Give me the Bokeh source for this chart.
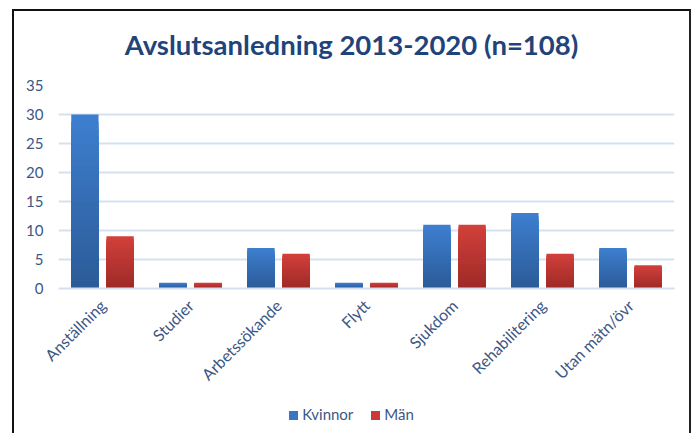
from bokeh.plotting import figure
from bokeh.models import FactorRange, ColumnDataSource, Div
from bokeh.layouts import column
from bokeh.transform import dodge
from bokeh.embed import file_html
from bokeh.resources import INLINE
import math

title_text = "Avslutsanledning 2013-2020 (n=108)"
categories = ["Anställning", "Studier", "Arbetssökande", "Flytt", "Sjukdom", "Rehabilitering", "Utan mätn/övr"]
kvinnor = [30, 1, 7, 1, 11, 13, 7]
man = [9, 1, 6, 1, 11, 6, 4]
series_names = ["Kvinnor", "Män"]
series_colors = ["#3A74C4", "#C8393A"]
y_ticks = [0, 5, 10, 15, 20, 25, 30, 35]

FONT = "Lato"
TXT = "#3B5785"

p = figure(x_range=FactorRange(*categories, range_padding=0), y_range=(0, 35),
           width=675, height=322, output_backend="svg", toolbar_location=None,
           min_border_left=44, min_border_right=15, min_border_top=14, min_border_bottom=80)

def hexmix(c1, c2, t):
    a = [int(c1[i:i+2], 16) for i in (1, 3, 5)]
    b = [int(c2[i:i+2], 16) for i in (1, 3, 5)]
    return "#%02x%02x%02x" % tuple(round(a[k] + (b[k] - a[k]) * t) for k in range(3))

N = 24
for name, vals, off, ctop, cbot in [("Kvinnor", kvinnor, -0.2, "#3D7ECF", "#2C5C98"),
                                     ("Män", man, 0.2, "#D2403B", "#9E2A27")]:
    for k in range(N):
        frac = 1 - k / N
        src = ColumnDataSource(dict(x=categories, top=[v * frac for v in vals]))
        p.vbar(x=dodge("x", off, range=p.x_range), top="top", bottom=0, width=0.31,
               source=src, fill_color=hexmix(ctop, cbot, k / (N - 1)), line_color=None)

p.xgrid.grid_line_color = None
p.ygrid.grid_line_color = "#D5E1F0"
p.ygrid.grid_line_width = 2
p.yaxis.ticker = y_ticks
p.yaxis.axis_line_color = None
p.yaxis.major_tick_line_color = None
p.yaxis.minor_tick_line_color = None
p.yaxis.major_label_text_font = FONT
p.yaxis.major_label_text_font_size = "15px"
p.yaxis.major_label_text_color = TXT
p.yaxis.major_label_standoff = 9

p.xaxis.axis_line_color = "#D5E1F0"
p.xaxis.axis_line_width = 2
p.xaxis.major_tick_line_color = None
p.xaxis.minor_tick_line_color = None
p.xaxis.major_label_orientation = math.pi / 4
p.xaxis.major_label_text_font = FONT
p.xaxis.major_label_text_font_size = "16px"
p.xaxis.major_label_text_color = TXT
p.xaxis.major_label_standoff = 8

p.outline_line_color = None

title_div = Div(text=title_text, width=675, height=60, margin=0,
                styles={"text-align": "center", "font-family": FONT, "font-size": "27.5px",
                        "font-weight": "bold", "color": "#1F4479", "line-height": "68px"})

sq = '<span style="display:inline-block;width:9px;height:9px;background:{c};margin-right:4px;"></span>'
legend_html = "".join(
    '<span style="margin:0 9px;">' + sq.format(c=c) + n + "</span>"
    for n, c in zip(series_names, series_colors))
div = Div(text=legend_html, width=675, height=40, margin=0,
          styles={"text-align": "center", "font-family": FONT, "font-size": "15px",
                  "color": TXT, "line-height": "28px", "padding-top": "7px"})

layout = column(title_div, p, div, spacing=0,
                styles={"border-left": "2px solid #111", "border-top": "2px solid #111",
                        "border-right": "2px solid #222", "margin-left": "12px", "margin-top": "9px"})

open("out.html", "w").write(file_html(layout, INLINE))
